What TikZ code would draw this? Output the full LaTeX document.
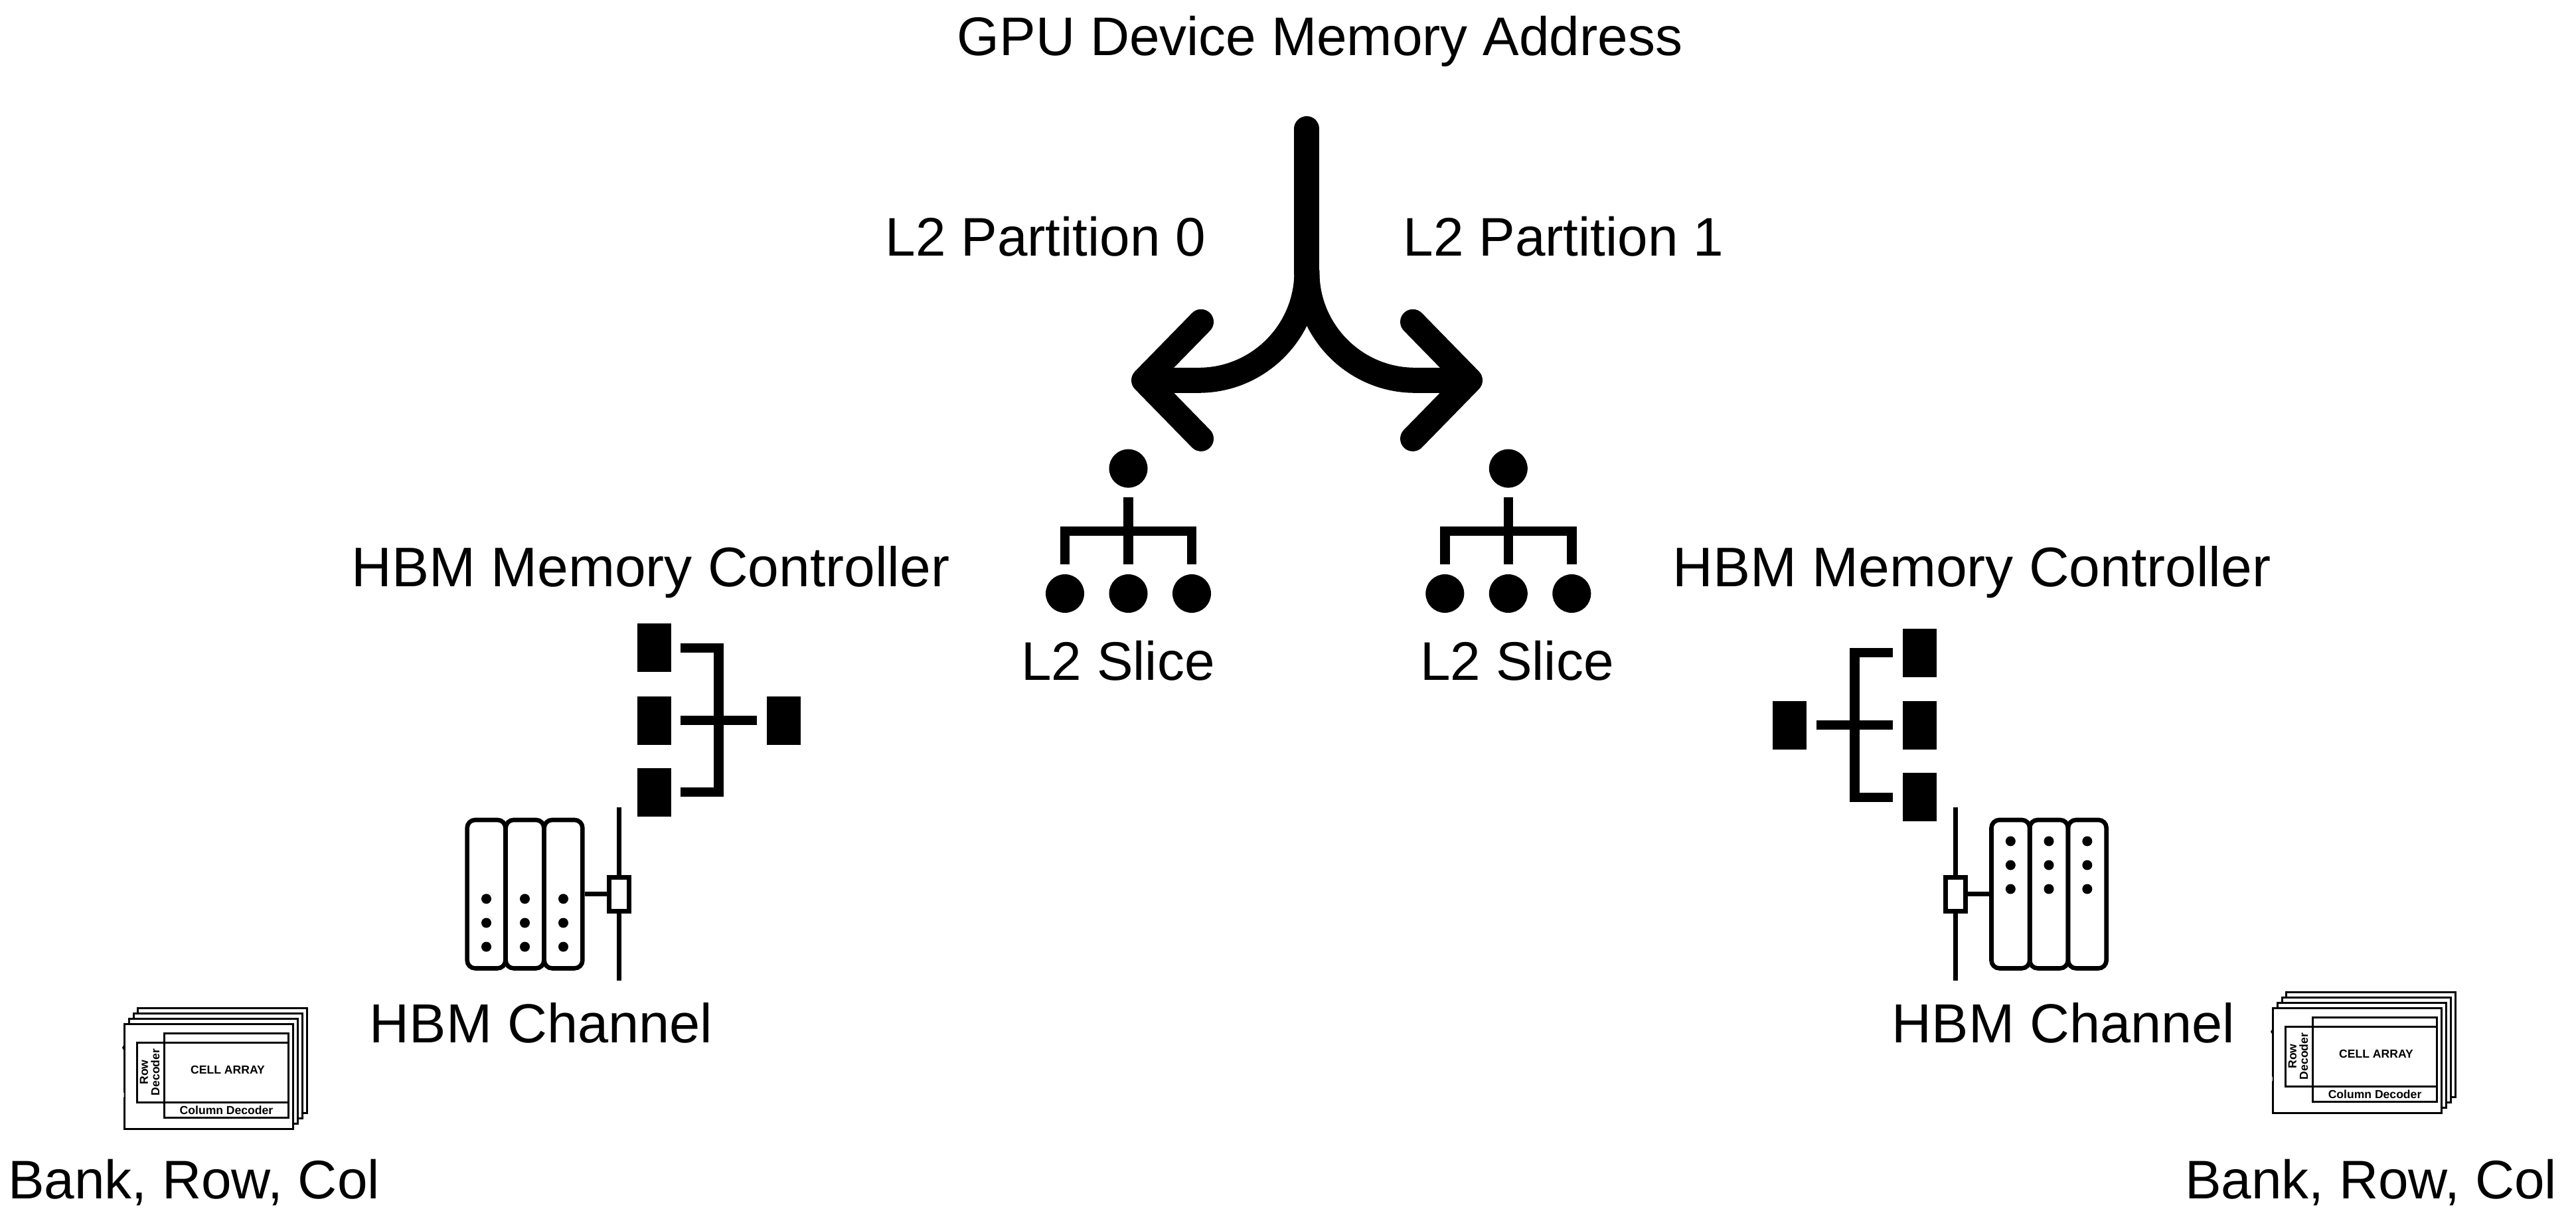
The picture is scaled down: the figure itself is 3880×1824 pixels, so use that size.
\documentclass[tikz,border=0pt]{standalone}
\usepackage{fontspec}
\setmainfont{Liberation Sans}
\usetikzlibrary{arrows.meta}
\tikzset{
  label/.style={font=\fontsize{23.3}{28}\selectfont, anchor=base},
  widelabel/.style={font=\fontsize{23.9}{28}\selectfont, anchor=base},
  tree/.style={line width=1.44mm},
  fork/.style={line width=3.8mm, line cap=round, line join=round},
  dot/.style={circle, fill=black, inner sep=0pt, minimum size=5.8mm},
  block/.style={rectangle, fill=black, inner sep=0pt, minimum width=5.1mm, minimum height=7.3mm},
  module/.style={rectangle, draw, line width=0.66mm, rounded corners=1.2mm, inner sep=0pt, minimum width=5.77mm, minimum height=22.35mm},
  pin/.style={circle, fill=black, inner sep=0pt, minimum size=1.5mm},
  tap/.style={rectangle, draw, fill=white, line width=0.7mm, inner sep=0pt, minimum width=3mm, minimum height=5.1mm},
  bus/.style={line width=0.7mm},
  gap/.style={shorten <=1.4mm, shorten >=1.4mm},
  sheet/.style={draw, fill=white, line width=0.3mm},
  bank/.pic={
    % Stacked sheets, back to front
    \draw[sheet] (20,-24) rectangle (275,134);
    \draw[sheet] (14,-16) rectangle (268,142);
    \draw[sheet] (7,-8) rectangle (261,150);
    \draw[sheet] (0,0) rectangle (254,158);
    \fill (0,31) -- (-3,36) -- (0,41) -- cycle;
    \fill[gray!40] (0,103) -- (-2,107) -- (0,111) -- cycle;
    % Decoders and array
    \draw[line width=0.3mm] (60,14) rectangle (247,141);
    \draw[line width=0.3mm] (19,28) rectangle (247,118);
    \node[font=\fontsize{5}{5}\selectfont\bfseries] (cell) at (156,69) {CELL ARRAY};
    \node[font=\fontsize{5}{5}\selectfont\bfseries] (col) at (154,130) {Column Decoder};
    \node[font=\fontsize{5}{4.9}\selectfont\bfseries, rotate=90, align=center] (row) at (38.5,73) {Row\\Decoder};
  }
}
\begin{document}
\begin{tikzpicture}[x=0.1mm, y=-0.1mm, >=latex]
  \useasboundingbox (0,0) rectangle (3880,1824);
  % Labels
  \node[label] (addr) at (1988,84) {GPU Device Memory Address};
  \node[label] (part0) at (1575,386) {L2 Partition 0};
  \node[label] (part1) at (2355,386) {L2 Partition 1};
  \node[label] (slice0) at (1684,1024) {L2 Slice};
  \node[label] (slice1) at (2285,1024) {L2 Slice};
  \node[widelabel] (ctrl0) at (980,884) {HBM Memory Controller};
  \node[widelabel] (ctrl1) at (2970,884) {HBM Memory Controller};
  \node[label, font=\fontsize{23.6}{28}\selectfont] (chan0) at (815,1570) {HBM Channel};
  \node[label, font=\fontsize{23.6}{28}\selectfont] (chan1) at (3108,1570) {HBM Channel};
  \node[label] (addr0) at (292,1805) {Bank, Row, Col};
  \node[label] (addr1) at (3571,1805) {Bank, Row, Col};
  % Fork
  \coordinate (stemtop) at (1968.4,194);
  \coordinate (stemend) at (1968.4,410);
  \coordinate (tip0) at (1704,572.8);
  \coordinate (tip1) at (2233,572.8);
  \draw[fork] (stemtop) -- (stemend);
  \draw[fork, -{Straight Barb[round, length=8.6mm, width=17.6mm]}] (stemend) .. controls (1968.4,500) and (1895,572.8) .. (1805.7,572.8) -- (tip0);
  \draw[fork, -{Straight Barb[round, length=8.6mm, width=17.6mm]}] (stemend) .. controls (1968.4,500) and (2041.8,572.8) .. (2131.1,572.8) -- (tip1);
  % L2 slices
  \foreach \tr/\tx in {s0/1699.5, s1/2271.8} {
    \node[dot] (\tr) at (\tx,705.6) {};
    \node[dot] (\tr a) at (\tx-95.5,894) {};
    \node[dot] (\tr b) at (\tx,894) {};
    \node[dot] (\tr c) at (\tx+95.5,894) {};
    \coordinate (\tr bar) at (\tx,800);
    \draw[tree, gap] (\tr) -- (\tr b);
    \draw[tree, gap] (\tr a) |- (\tr bar) -| (\tr c);
  }
  % Memory controller, left
  \node[block] (c0a) at (985,976) {};
  \node[block] (c0b) at (985,1085) {};
  \node[block] (c0c) at (985,1193) {};
  \node[block] (c0h) at (1180,1085) {};
  \coordinate (c0v) at (1082.5,1085);
  \draw[tree, gap] (c0a.east) -| (c0v) |- (c0c.east);
  \draw[tree, gap] (c0b) -- (c0h);
  % Memory controller, right
  \node[block] (c1a) at (2891,983.2) {};
  \node[block] (c1b) at (2891,1092) {};
  \node[block] (c1c) at (2891,1200.8) {};
  \node[block] (c1h) at (2695.7,1092) {};
  \coordinate (c1v) at (2793.4,1092);
  \draw[tree, gap] (c1a.west) -| (c1v) |- (c1c.west);
  \draw[tree, gap] (c1b) -- (c1h);
  % Channel, left
  \foreach \md/\mx in {m0a/732.5, m0b/790.5, m0c/848.5} {
    \node[module] (\md) at (\mx,1346.7) {};
    \foreach \my in {1353.8,1390,1426}
      \node[pin] at (\mx,\my) {};
  }
  \coordinate (b0top) at (932,1216);
  \coordinate (b0end) at (932,1476.7);
  \draw[bus] (b0top) -- (b0end);
  \node[tap] (t0) at (932,1346.7) {};
  \draw[bus] (t0) -- (m0c);
  % Channel, right
  \foreach \md/\mx in {m1a/3028.3, m1b/3086, m1c/3143.8} {
    \node[module] (\md) at (\mx,1346.7) {};
    \foreach \my in {1267,1303,1339}
      \node[pin] at (\mx,\my) {};
  }
  \coordinate (b1top) at (2945,1216);
  \coordinate (b1end) at (2945,1476.7);
  \draw[bus] (b1top) -- (b1end);
  \node[tap] (t1) at (2945,1346.7) {};
  \draw[bus] (t1) -- (m1a);
  % Banks
  \pic (bank0) at (187,1542) {bank};
  \pic (bank1) at (3423,1518) {bank};
\end{tikzpicture}
\end{document}
